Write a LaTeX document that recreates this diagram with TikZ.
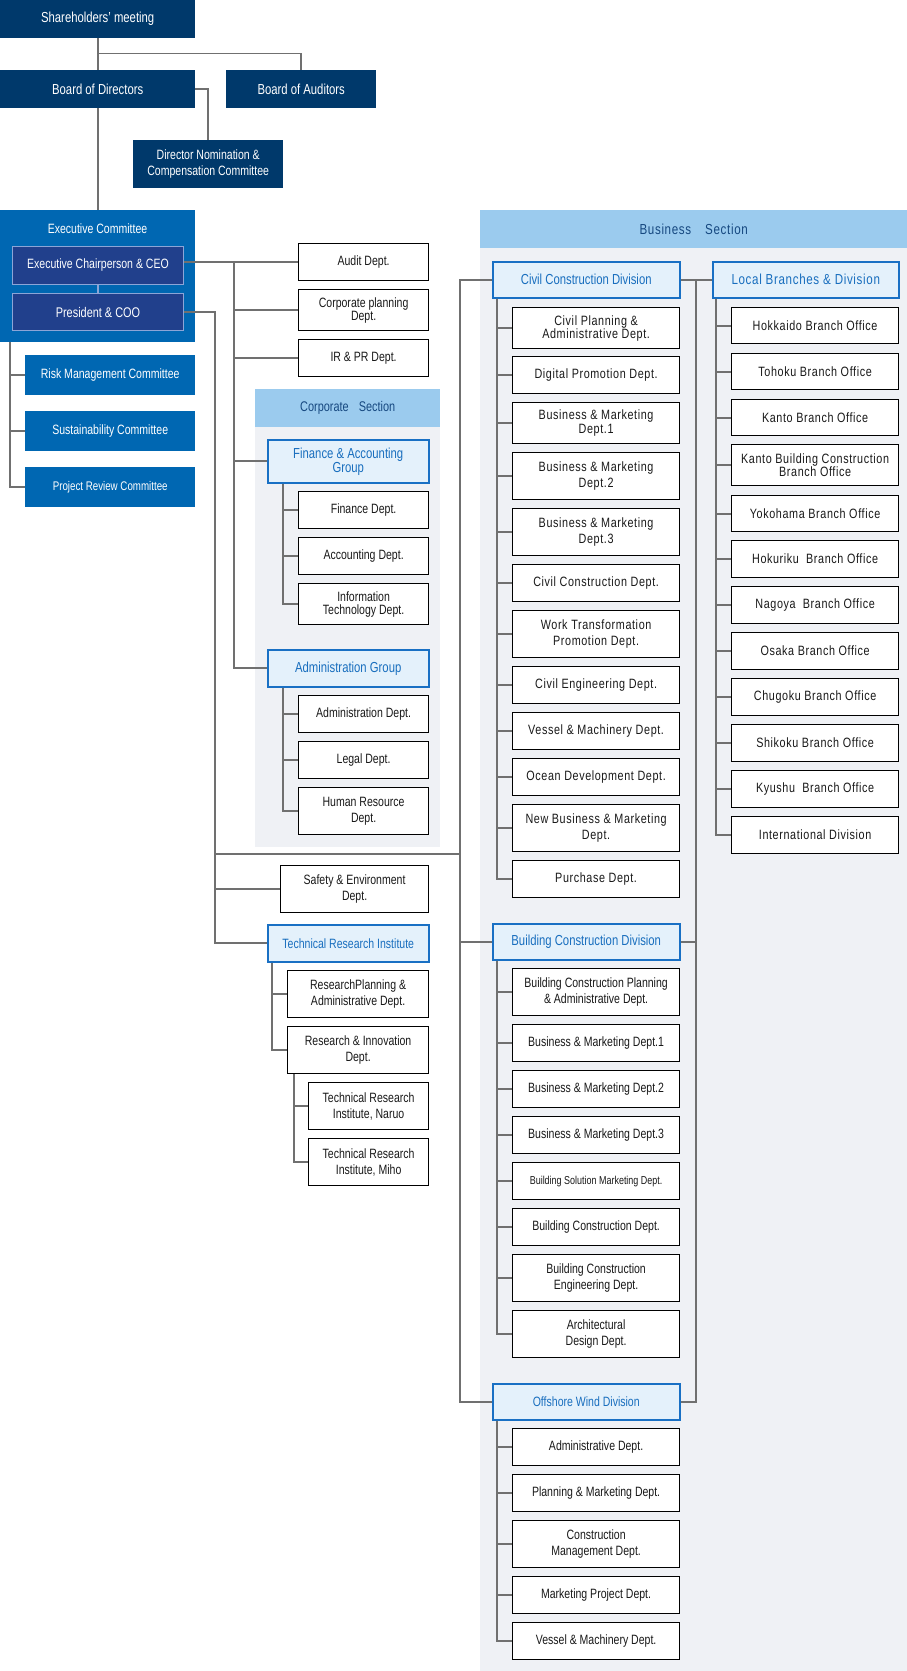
\documentclass[tikz,border=0pt]{standalone}
\usepackage{fontspec}
\setmainfont{Liberation Sans}
\newfontfamily\condfont[FakeStretch=0.78]{Liberation Sans}
\newfontfamily\spacefont[FakeStretch=0.8,LetterSpace=4.5]{Liberation Sans}
\usepackage{tikz}
\definecolor{OrgNavy}{RGB}{0,57,107}
\definecolor{ExecBlue}{RGB}{0,103,178}
\definecolor{ChairBlue}{RGB}{33,64,140}
\definecolor{ChairEdge}{RGB}{140,165,215}
\definecolor{SecHead}{RGB}{155,203,238}
\definecolor{SecText}{RGB}{22,72,128}
\definecolor{SecBack}{RGB}{239,241,245}
\definecolor{DivFill}{RGB}{228,241,251}
\definecolor{DivEdge}{RGB}{25,112,196}
\definecolor{DivText}{RGB}{24,110,190}
\definecolor{LineGray}{RGB}{112,112,112}
\tikzset{
    box/.style={rectangle, anchor=north west, inner sep=0pt, align=center},
    wh/.style 2 args={minimum width=#1, minimum height=#2},
    topbox/.style={box, fill=OrgNavy, text=white, font=\condfont\fontsize{14.5}{16}\selectfont},
    combox/.style={box, fill=ExecBlue, text=white, font=\condfont\fontsize{13.5}{15}\selectfont},
    chairbox/.style={box, fill=ChairBlue, draw=ChairEdge, line width=1pt, text=white, font=\condfont\fontsize{13.5}{15}\selectfont},
    dept/.style={box, fill=white, draw=black, line width=1.2pt, text=black!90},
    division/.style={box, fill=DivFill, draw=DivEdge, line width=1.5pt, text=DivText, font=\condfont\fontsize{14.5}{14}\selectfont},
    section/.style={box, fill=SecHead, text=SecText},
    conn/.style={draw=LineGray, line width=1.8pt}
}

\begin{document}
\begin{tikzpicture}[x=1pt, y=-1pt]
  \useasboundingbox (0,0) rectangle (907,1671);

  % section backgrounds
  \fill[SecBack] (480,248) rectangle (907,1671);
  \node[section, wh={427}{38}, font=\spacefont\fontsize{14.5}{15}\selectfont] (bussec) at (480,210) {Business\hspace{14pt}Section};
  \fill[SecBack] (255,427) rectangle (440,847);
  \node[section, wh={185}{38}, font=\condfont\fontsize{14}{15}\selectfont] (corpsec) at (255,389) {Corporate\hspace{10pt}Section};

  % governance
  \node[topbox, wh={195}{38}] (share) at (0,0) {Shareholders’ meeting};
  \node[topbox, wh={195}{38}] (bod) at (0,70) {Board of Directors};
  \node[topbox, wh={150}{38}] (boa) at (226,70) {Board of Auditors};
  \node[topbox, wh={150}{48}, font=\condfont\fontsize{13.5}{16}\selectfont] (dnc) at (133,140) {Director Nomination \&\\Compensation Committee};
  \draw[conn] (share) -- (bod);
  \draw[conn] (share.south) ++(0,15) -| (boa.north);
  \draw[conn] (bod.east) -| (dnc.north);

  % executive committee
  \node[combox, wh={195}{132}] (exec) at (0,210) {};
  \node[text=white, font=\condfont\fontsize{13.5}{15}\selectfont] (exectitle) at (97.5,229) {Executive Committee};
  \node[chairbox, wh={171}{38}] (ceo) at (12,246) {Executive Chairperson \& CEO};
  \node[chairbox, wh={171}{37}, font=\condfont\fontsize{14}{15}\selectfont] (coo) at (12,293) {President \& COO};
  \draw[conn] (bod) -- (exec);
  \draw[ChairEdge, line width=1.5pt] (ceo) -- (coo);

  \node[combox, wh={170}{40}] (risk) at (25,355) {Risk Management Committee};
  \node[combox, wh={170}{40}] (sust) at (25,411) {Sustainability Committee};
  \node[combox, wh={170}{40}, font=\condfont\fontsize{12.5}{15}\selectfont] (prc) at (25,467) {Project Review Committee};
  \foreach \n in {risk,sust,prc}
    \draw[conn] (exec.south west) ++(10,0) |- (\n.west);

  % staff departments under the CEO
  \node[dept, wh={130}{37}, font=\condfont\fontsize{13.5}{15}\selectfont] (audit) at (298,243) {Audit Dept.};
  \node[dept, wh={130}{41}, font=\condfont\fontsize{13.5}{13}\selectfont] (cplan) at (298,289) {Corporate planning\\Dept.};
  \node[dept, wh={130}{37}, font=\condfont\fontsize{13.5}{15}\selectfont] (irpr) at (298,339) {IR \& PR Dept.};
  \node[division, wh={161}{43}] (fingrp) at (267,439) {Finance \& Accounting\\Group};
  \node[division, wh={161}{37}] (admgrp) at (267,649) {Administration Group};

  \coordinate (cbus) at (234,0);
  \draw[conn] (audit.west) -- (audit.west -| ceo.east);
  \foreach \n in {cplan,irpr,fingrp,admgrp}
    \draw[conn] (cbus |- audit.west) |- (\n.west);

  \foreach \y/\h/\bs/\t [count=\i] in {491/37/15/{Finance Dept.}, 537/37/15/{Accounting Dept.}, 583/41/13/{Information\\Technology Dept.}} {
    \node[dept, wh={130}{\h}, font=\condfont\fontsize{13.5}{\bs}\selectfont] (fin\i) at (298,\y) {\t};
    \draw[conn] (fingrp.south west) ++(16,0) |- (fin\i.west);
  }
  \foreach \y/\h/\bs/\t [count=\i] in {695/37/15/{Administration Dept.}, 741/37/15/{Legal Dept.}, 787/47/16/{Human Resource\\Dept.}} {
    \node[dept, wh={130}{\h}, font=\condfont\fontsize{13.5}{\bs}\selectfont] (adm\i) at (298,\y) {\t};
    \draw[conn] (admgrp.south west) ++(16,0) |- (adm\i.west);
  }

  % departments under the COO
  \node[dept, wh={148}{47}, font=\condfont\fontsize{13.5}{16}\selectfont] (safety) at (280,865) {Safety \& Environment\\Dept.};
  \node[division, wh={161}{37}, font=\condfont\fontsize{13.5}{15}\selectfont] (tri) at (267,924) {Technical Research Institute};
  \node[dept, wh={141}{47}, font=\condfont\fontsize{13.5}{16}\selectfont] (rpa) at (287,970) {ResearchPlanning \&\\Administrative Dept.};
  \node[dept, wh={141}{47}, font=\condfont\fontsize{13.5}{16}\selectfont] (rinno) at (287,1026) {Research \& Innovation\\Dept.};
  \node[dept, wh={120}{47}, font=\condfont\fontsize{13.5}{16}\selectfont] (naruo) at (308,1082) {Technical Research\\Institute, Naruo};
  \node[dept, wh={120}{47}, font=\condfont\fontsize{13.5}{16}\selectfont] (miho) at (308,1138) {Technical Research\\Institute, Miho};

  \coordinate (obus) at (215,0);
  \coordinate (cross) at (215,854);
  \draw[conn] (coo.east) -| (obus |- tri.west) -- (tri.west);
  \draw[conn] (obus |- coo.east) |- (safety.west);
  \draw[conn] (tri.south west) ++(5,0) |- (rpa.west);
  \draw[conn] (tri.south west) ++(5,0) |- (rinno.west);
  \draw[conn] (rinno.south west) ++(7,0) |- (naruo.west);
  \draw[conn] (rinno.south west) ++(7,0) |- (miho.west);

  % business section divisions
  \node[division, wh={187}{36}] (civdiv) at (492,261) {Civil Construction Division};
  \node[division, wh={186}{36}, font=\spacefont\fontsize{14.5}{15}\selectfont] (locdiv) at (712,261) {Local Branches \& Division};
  \node[division, wh={187}{36}] (bcdiv) at (492,923) {Building Construction Division};
  \node[division, wh={187}{36}, font=\condfont\fontsize{13.5}{15}\selectfont] (offdiv) at (492,1383) {Offshore Wind Division};

  \coordinate (bbus) at (460,0);
  \coordinate (rbus) at (696,0);
  \draw[conn] (civdiv.west) -| (bbus |- offdiv.west) -- (offdiv.west);
  \draw[conn] (bcdiv.west) -- (bcdiv.west -| bbus);
  \draw[conn] (cross) -- (cross -| bbus);
  \draw[conn] (civdiv.east) -- (locdiv.west);
  \draw[conn] (rbus |- civdiv.east) |- (offdiv.east);
  \draw[conn] (bcdiv.east) -- (bcdiv.east -| rbus);

  % civil construction departments
  \foreach \y/\h/\bs/\t [count=\i] in {307/41/13/{Civil Planning \&\\Administrative Dept.}, 356/37/15/{Digital Promotion Dept.}, 402/41/14/{Business \& Marketing\\Dept.1}, 452/47/16/{Business \& Marketing\\Dept.2}, 508/47/16/{Business \& Marketing\\Dept.3}, 564/37/15/{Civil Construction Dept.}, 610/47/16/{Work Transformation\\Promotion Dept.}, 666/37/15/{Civil Engineering Dept.}, 712/37/15/{Vessel \& Machinery Dept.}, 758/37/15/{Ocean Development Dept.}, 804/47/16/{New Business \& Marketing\\Dept.}, 860/37/15/{Purchase Dept.}} {
    \node[dept, wh={167}{\h}, font=\spacefont\fontsize{13.5}{\bs}\selectfont] (civ\i) at (512,\y) {\t};
    \draw[conn] (civdiv.south west) ++(5,0) |- (civ\i.west);
  }

  % local branches
  \foreach \y/\h/\bs/\t [count=\i] in {307/36/15/{Hokkaido Branch Office}, 353/36/15/{Tohoku Branch Office}, 399/36/15/{Kanto Branch Office}, 444/41/13/{Kanto Building Construction\\Branch Office}, 495/36/15/{Yokohama Branch Office}, 540/37/15/{Hokuriku\ \ Branch Office}, 586/37/15/{Nagoya\ \ Branch Office}, 632/37/15/{Osaka Branch Office}, 678/37/15/{Chugoku Branch Office}, 724/37/15/{Shikoku Branch Office}, 770/37/15/{Kyushu\ \ Branch Office}, 816/37/15/{International Division}} {
    \node[dept, wh={167}{\h}, font=\spacefont\fontsize{13.5}{\bs}\selectfont] (loc\i) at (731,\y) {\t};
    \draw[conn] (locdiv.south west) ++(4,0) |- (loc\i.west);
  }

  % building construction departments
  \foreach \y/\h/\fs/\bs/\t [count=\i] in {968/47/13.5/16/{Building Construction Planning\\\& Administrative Dept.}, 1024/37/13.5/15/{Business \& Marketing Dept.1}, 1070/37/13.5/15/{Business \& Marketing Dept.2}, 1116/37/13.5/15/{Business \& Marketing Dept.3}, 1162/37/11.5/15/{Building Solution Marketing Dept.}, 1208/37/13.5/15/{Building Construction Dept.}, 1254/47/13.5/16/{Building Construction\\Engineering Dept.}, 1310/47/13.5/16/{Architectural\\Design Dept.}} {
    \node[dept, wh={167}{\h}, font=\condfont\fontsize{\fs}{\bs}\selectfont] (bld\i) at (512,\y) {\t};
    \draw[conn] (bcdiv.south west) ++(5,0) |- (bld\i.west);
  }

  % offshore wind departments
  \foreach \y/\h/\bs/\t [count=\i] in {1428/37/15/{Administrative Dept.}, 1474/37/15/{Planning \& Marketing Dept.}, 1520/47/16/{Construction\\Management Dept.}, 1576/37/15/{Marketing Project Dept.}, 1622/37/15/{Vessel \& Machinery Dept.}} {
    \node[dept, wh={167}{\h}, font=\condfont\fontsize{13.5}{\bs}\selectfont] (off\i) at (512,\y) {\t};
    \draw[conn] (offdiv.south west) ++(5,0) |- (off\i.west);
  }
\end{tikzpicture}
\end{document}
